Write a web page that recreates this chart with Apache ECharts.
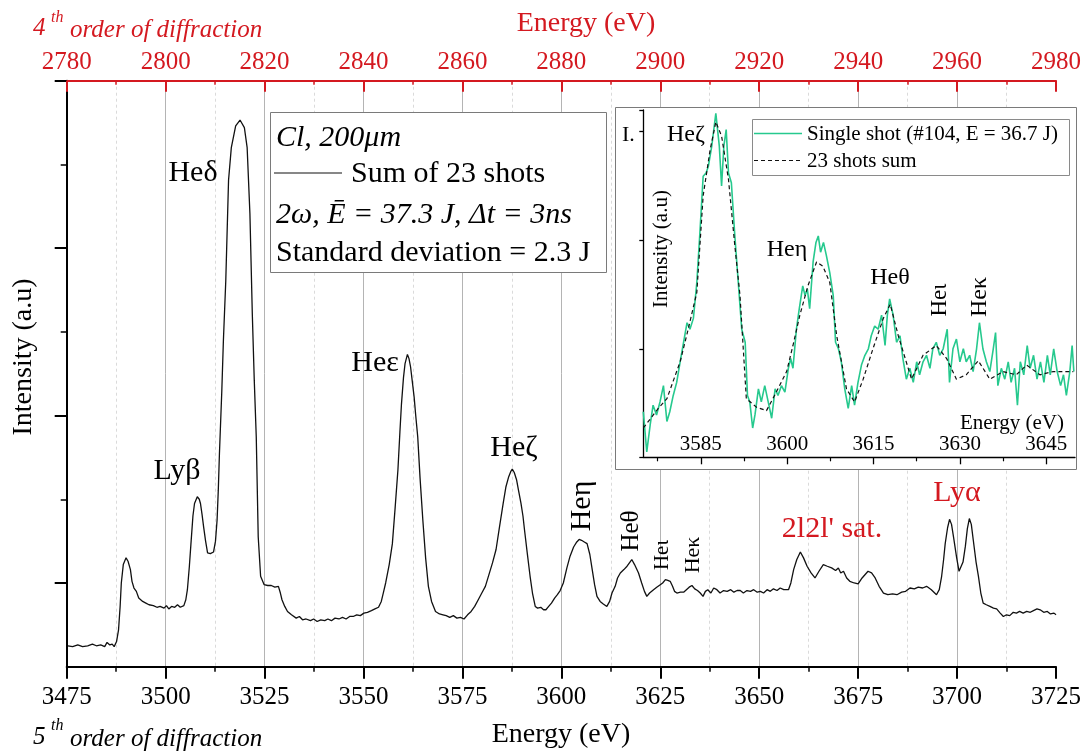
<!DOCTYPE html>
<html><head><meta charset="utf-8">
<script src="https://cdn.jsdelivr.net/npm/echarts@6/dist/echarts.min.js"></script>
<style>html,body{margin:0;padding:0;background:#fff}#c{width:1084px;height:752px}</style>
</head><body><div id="c"></div>
<script>
// ---------- DATA ----------
const mainEnergy = [3475.3,3476.5,3477.8,3479.0,3480.3,3481.5,3482.5,3483.6,3484.6,3485.2,3485.9,3486.5,3487.0,3487.6,3488.1,3488.5,3488.8,3489.3,3490.0,3490.5,3491.1,3491.5,3492.0,3492.6,3493.2,3494.2,3495.0,3495.8,3496.9,3497.8,3498.6,3499.6,3500.2,3500.8,3501.5,3502.3,3503.0,3503.7,3504.6,3505.1,3505.5,3506.0,3506.4,3506.9,3507.3,3508.0,3508.5,3508.8,3509.2,3509.6,3510.1,3510.6,3511.3,3512.1,3512.6,3513.0,3513.3,3513.6,3514.2,3514.6,3515.2,3515.9,3516.6,3517.7,3518.8,3519.9,3520.6,3521.3,3521.9,3522.4,3522.9,3523.4,3524.0,3524.9,3525.8,3526.7,3527.6,3528.5,3529.0,3529.4,3530.1,3530.8,3531.8,3533.0,3533.8,3534.6,3535.5,3536.6,3537.4,3538.3,3539.2,3540.2,3541.0,3541.9,3542.8,3543.8,3544.7,3545.6,3546.5,3547.4,3548.3,3549.2,3550.1,3551.0,3552.0,3552.9,3553.8,3554.5,3555.0,3555.6,3556.5,3557.3,3558.0,3558.7,3559.2,3559.6,3560.1,3560.5,3561.1,3561.5,3561.9,3562.3,3562.8,3563.2,3563.7,3564.3,3565.0,3565.7,3566.4,3567.2,3568.2,3569.2,3570.1,3570.9,3571.8,3572.7,3573.6,3574.5,3575.4,3576.3,3577.2,3578.1,3579.0,3579.9,3580.8,3581.7,3582.6,3583.5,3584.4,3585.3,3586.0,3586.7,3587.2,3587.6,3588.1,3588.7,3589.2,3589.8,3590.3,3590.7,3591.4,3592.1,3592.7,3593.4,3594.0,3594.8,3595.5,3596.1,3596.8,3597.5,3598.3,3599.0,3599.7,3600.5,3601.4,3602.2,3603.1,3603.9,3604.5,3605.1,3605.8,3606.5,3607.2,3607.8,3608.4,3609.0,3609.8,3610.6,3611.5,3612.2,3612.8,3613.6,3614.2,3614.9,3615.8,3616.6,3617.2,3617.8,3618.5,3619.5,3620.3,3621.0,3621.6,3622.3,3623.3,3624.1,3625.0,3625.6,3626.3,3626.9,3627.5,3628.1,3628.6,3629.2,3630.1,3630.9,3631.6,3632.3,3633.0,3633.7,3634.4,3635.1,3635.8,3636.4,3637.0,3637.8,3638.5,3639.3,3640.1,3641.0,3641.9,3642.8,3643.6,3644.4,3645.2,3646.0,3646.9,3647.8,3648.6,3649.5,3650.3,3651.1,3652.0,3652.8,3653.6,3654.5,3655.3,3656.2,3657.4,3658.0,3658.7,3659.5,3660.4,3661.2,3662.1,3663.1,3664.1,3665.1,3666.2,3667.2,3668.3,3669.3,3670.0,3670.6,3671.3,3672.1,3672.9,3674.0,3675.0,3676.0,3677.5,3678.4,3679.3,3680.3,3681.4,3682.5,3683.7,3684.8,3686.0,3687.0,3688.1,3689.2,3690.2,3691.3,3692.3,3693.5,3694.8,3695.5,3696.1,3696.6,3697.0,3697.6,3698.1,3698.6,3699.1,3699.9,3700.5,3700.8,3701.5,3702.1,3702.6,3703.1,3703.6,3704.1,3704.8,3705.4,3706.0,3706.6,3707.4,3708.3,3709.2,3710.0,3710.9,3711.7,3712.5,3713.3,3714.2,3715.0,3715.8,3716.7,3717.6,3718.5,3719.3,3720.2,3721.0,3721.9,3722.8,3723.6,3724.5,3725.0];
const mainIntensity = [0.25,0.24,0.26,0.24,0.25,0.27,0.25,0.26,0.24,0.29,0.26,0.27,0.24,0.30,0.44,0.72,1.00,1.22,1.30,1.26,1.16,1.02,0.94,0.90,0.82,0.78,0.76,0.74,0.73,0.71,0.72,0.70,0.73,0.69,0.72,0.71,0.74,0.71,0.73,0.80,0.92,1.20,1.47,1.80,1.95,2.03,2.00,1.95,1.82,1.67,1.50,1.36,1.35,1.37,1.50,1.75,2.10,2.55,3.30,3.90,4.61,5.81,6.20,6.46,6.53,6.44,6.20,5.41,4.22,3.42,2.75,1.55,1.08,0.98,0.97,0.97,0.95,0.96,0.88,0.80,0.72,0.66,0.62,0.58,0.60,0.56,0.57,0.55,0.57,0.54,0.56,0.55,0.57,0.55,0.58,0.57,0.59,0.57,0.60,0.60,0.62,0.61,0.64,0.65,0.67,0.69,0.71,0.78,0.88,1.00,1.22,1.47,1.90,2.35,2.80,3.14,3.45,3.62,3.73,3.68,3.58,3.42,3.22,3.00,2.75,2.25,1.75,1.30,0.96,0.78,0.66,0.63,0.62,0.61,0.59,0.61,0.58,0.59,0.57,0.62,0.66,0.72,0.80,0.88,0.96,1.10,1.24,1.40,1.68,1.95,2.15,2.27,2.33,2.36,2.32,2.23,2.10,1.95,1.80,1.63,1.35,1.08,0.88,0.72,0.70,0.71,0.68,0.68,0.72,0.76,0.82,0.86,0.91,1.00,1.18,1.32,1.43,1.49,1.52,1.51,1.49,1.47,1.34,1.16,0.98,0.84,0.78,0.75,0.72,0.78,0.88,0.96,1.06,1.12,1.16,1.20,1.24,1.28,1.22,1.12,1.00,0.90,0.84,0.88,0.92,0.95,0.98,1.00,1.04,1.03,1.02,0.96,0.90,0.88,0.89,0.89,0.92,0.95,0.97,0.93,0.91,0.88,0.84,0.90,0.92,0.88,0.94,0.92,0.88,0.91,0.90,0.92,0.89,0.91,0.91,0.88,0.91,0.90,0.92,0.89,0.90,0.88,0.92,0.90,0.93,0.91,0.94,0.92,0.92,1.00,1.16,1.28,1.37,1.30,1.20,1.12,1.06,1.14,1.22,1.20,1.18,1.15,1.18,1.12,1.14,1.06,1.02,1.00,0.99,1.06,1.14,1.12,1.06,0.96,0.88,0.86,0.87,0.86,0.89,0.90,0.94,0.93,0.95,0.94,0.96,0.92,0.86,0.92,1.08,1.28,1.47,1.66,1.76,1.70,1.55,1.30,1.14,1.12,1.25,1.44,1.65,1.77,1.70,1.51,1.25,1.08,0.88,0.76,0.74,0.72,0.70,0.69,0.64,0.60,0.62,0.61,0.65,0.64,0.66,0.64,0.66,0.65,0.67,0.69,0.68,0.65,0.66,0.63,0.64,0.62];

const insetEnergySum = [3575.0,3577.6,3579.1,3581.4,3582.8,3584.3,3585.4,3586.6,3587.6,3588.6,3589.8,3590.9,3591.8,3592.9,3594.7,3596.4,3598.1,3599.9,3601.0,3602.2,3603.6,3605.1,3606.2,3607.4,3608.6,3610.3,3611.7,3613.2,3614.9,3616.7,3617.9,3619.3,3621.6,3623.6,3625.9,3627.7,3629.4,3631.1,3633.2,3635.2,3637.5,3639.8,3641.6,3643.9,3646.2,3649.7];
const insetSum = [0.27,0.45,0.54,0.88,1.18,1.52,2.41,2.83,3.09,2.96,2.56,1.95,1.49,0.54,0.46,0.43,0.60,0.79,1.03,1.31,1.58,1.80,1.76,1.61,1.12,0.63,0.51,0.72,1.00,1.28,1.41,1.12,0.72,0.94,1.03,0.91,0.72,0.76,0.89,0.72,0.79,0.76,0.85,0.76,0.79,0.79];
const insetEnergyShot = [3575.0,3575.6,3576.2,3576.7,3577.3,3577.9,3578.5,3579.1,3579.6,3580.2,3580.8,3581.4,3582.2,3582.6,3583.1,3583.7,3584.3,3584.8,3585.4,3585.9,3586.3,3586.9,3587.6,3588.2,3588.6,3589.0,3589.4,3589.8,3590.3,3590.9,3591.5,3592.1,3592.7,3593.1,3593.5,3594.0,3594.4,3595.0,3595.5,3596.1,3596.7,3597.3,3597.9,3598.4,3599.0,3599.6,3600.2,3600.6,3601.0,3601.6,3602.1,3602.7,3603.1,3603.5,3603.9,3604.5,3605.0,3605.4,3605.8,3606.3,3606.8,3607.4,3608.0,3608.4,3608.9,3609.4,3610.0,3610.6,3611.2,3611.7,3612.3,3612.9,3613.5,3614.1,3614.6,3615.2,3615.8,3616.4,3617.0,3617.4,3617.8,3618.4,3619.0,3619.6,3620.1,3620.7,3621.3,3621.9,3622.5,3623.0,3623.6,3624.2,3624.8,3625.3,3625.9,3626.5,3627.1,3627.8,3628.2,3628.8,3629.4,3630.0,3630.6,3631.1,3631.7,3632.3,3632.9,3633.4,3634.0,3634.6,3635.2,3635.8,3636.2,3636.6,3637.2,3637.8,3638.4,3638.9,3639.5,3640.0,3640.5,3641.1,3641.7,3642.2,3642.8,3643.4,3644.0,3644.6,3645.2,3645.7,3646.3,3646.9,3647.5,3648.0,3648.5,3649.1,3649.5,3649.8];
const insetShot = [0.42,0.05,0.30,0.48,0.39,0.51,0.66,0.33,0.42,0.57,0.69,0.88,1.12,1.24,1.18,1.28,1.61,2.04,2.59,2.62,2.68,2.87,3.17,2.87,2.50,2.87,3.02,2.62,2.53,2.04,1.61,1.18,1.06,0.57,0.51,0.27,0.39,0.63,0.51,0.66,0.51,0.36,0.63,0.57,0.66,0.60,0.82,0.91,0.82,1.18,1.37,1.58,1.49,1.55,1.37,1.80,1.98,2.04,1.89,1.98,1.86,1.70,1.49,1.06,1.00,0.88,0.63,0.45,0.66,0.48,0.69,0.85,0.94,1.00,1.12,1.21,1.18,1.31,1.03,1.31,1.46,1.31,1.06,1.12,0.91,0.72,0.82,0.69,0.88,0.76,0.88,0.94,0.82,1.00,1.06,0.94,1.00,1.18,0.69,1.00,1.09,0.88,1.00,0.88,0.94,0.79,1.00,1.24,1.00,0.88,0.79,1.00,1.15,0.66,0.82,0.72,0.88,0.69,0.82,0.48,0.88,0.76,1.03,0.82,0.94,0.72,0.88,0.69,0.94,0.76,1.00,0.79,0.66,0.76,0.57,0.79,1.03,0.79];

const insetMajorTicks = [3585, 3600, 3615, 3630, 3645];
const insetMinorTicks = [3577.5, 3592.5, 3607.5, 3622.5, 3637.5];
const mainYMajorTicks = [1, 3, 5, 7];
const mainYMinorTicks = [2, 4, 6];

// ---------- STYLE ----------
const FONT = '"Liberation Serif", "Times New Roman", serif';
const RED = '#d41920';
const GREEN = '#26c98e';
const plain = v => String(v);

const zip = (a, b) => a.map((v, i) => [v, b[i]]);

function T(text, x, y, size, o) {
  o = o || {};
  return {
    type: 'text', x: x, y: y, rotation: o.rot || 0, z: o.z || 10, silent: true,
    style: {
      text: text, fontSize: size, fontFamily: FONT,
      fontStyle: o.italic ? 'italic' : 'normal',
      fill: o.color || '#000',
      align: o.align || 'center', verticalAlign: o.valign || 'middle'
    }
  };
}
const R90 = Math.PI / 2;

const graphics = [
  {type: 'rect', z: 1, silent: true, shape: {x: 270.5, y: 112.5, width: 336, height: 160},
   style: {fill: '#fff', stroke: '#7a7a7a', lineWidth: 1}},
  {type: 'rect', z: 1, silent: true, shape: {x: 615.5, y: 107.5, width: 461, height: 362},
   style: {fill: '#fff', stroke: '#7a7a7a', lineWidth: 1}},
  {type: 'rect', z: 8, silent: true, shape: {x: 752.5, y: 119.5, width: 317, height: 56},
   style: {fill: '#fff', stroke: '#8a8a8a', lineWidth: 1}},
  T('Cl, 200\u03bcm', 276, 138, 30, {italic: true, align: 'left'}),
  {type: 'line', z: 10, silent: true, shape: {x1: 274, y1: 173, x2: 342, y2: 173}, style: {stroke: '#111', lineWidth: 1.2}},
  T('Sum of 23 shots', 351, 174, 30, {align: 'left'}),
  T('2\u03c9, \u0112 = 37.3 J, \u0394t = 3ns', 276, 215, 30, {italic: true, align: 'left'}),
  T('Standard deviation = 2.3 J', 276, 253, 30, {align: 'left'}),
  T('Energy (eV)', 586, 24, 28, {color: RED}),
  T('Energy (eV)', 561, 735, 28),
  T('Intensity (a.u)', 24, 357, 28, {rot: R90}),
  T('4', 33, 28, 25, {italic: true, color: RED, align: 'left'}),
  T('th', 51, 18, 16, {italic: true, color: RED, align: 'left'}),
  T('order of diffraction', 70, 30, 25, {italic: true, color: RED, align: 'left'}),
  T('5', 33, 737, 25, {italic: true, align: 'left'}),
  T('th', 51, 726, 16, {italic: true, align: 'left'}),
  T('order of diffraction', 70, 739, 25, {italic: true, align: 'left'}),
  T('He\u03b4', 193, 173, 30),
  T('Ly\u03b2', 177, 471, 30),
  T('He\u03b5', 375, 363, 30),
  T('He\u03b6', 514, 448, 30),
  T('He\u03b7', 582, 506, 30, {rot: R90}),
  T('He\u03b8', 631, 531, 25, {rot: R90}),
  T('He\u03b9', 662, 555, 21, {rot: R90}),
  T('He\u03ba', 693, 555, 22, {rot: R90}),
  T("2l2l' sat.", 832, 529, 30, {color: RED}),
  T('Ly\u03b1', 957, 493, 30, {color: RED}),
  T('I.', 622, 135, 22, {align: 'left'}),
  T('He\u03b6', 686, 135, 24),
  T('He\u03b7', 787, 250, 24),
  T('He\u03b8', 890, 278, 24),
  T('He\u03b9', 940, 300, 23, {rot: R90}),
  T('He\u03ba', 980, 297, 24, {rot: R90}),
  T('Energy (eV)', 1012, 423, 21),
  T('Intensity (a.u)', 661, 249, 21, {rot: R90}),
  {type: 'line', z: 10, silent: true, shape: {x1: 754, y1: 133.5, x2: 802, y2: 133.5}, style: {stroke: GREEN, lineWidth: 1.6}},
  T('Single shot (#104, E = 36.7 J)', 807, 134, 21, {align: 'left'}),
  {type: 'line', z: 10, silent: true, shape: {x1: 754, y1: 160.5, x2: 802, y2: 160.5}, style: {stroke: '#111', lineWidth: 1.2, lineDash: [4, 3]}},
  T('23 shots sum', 807, 161, 21, {align: 'left'})
];

const chart = echarts.init(document.getElementById('c'), null, {renderer: 'canvas'});
chart.setOption({
  animation: false,
  backgroundColor: '#fff',
  grid: [
    {left: 66.7, right: 27.3, top: 80.7, bottom: 85.3},
    {left: 643.3, right: 9, top: 110, bottom: 294.7, z: 5}
  ],
  xAxis: [
    {
      type: 'value', gridIndex: 0, position: 'bottom', min: 3475, max: 3725, interval: 25,
      axisLine: {show: true, onZero: false, lineStyle: {color: '#000', width: 2}},
      axisTick: {show: true, inside: false, length: 12, lineStyle: {color: '#000', width: 2}},
      minorTick: {show: true, splitNumber: 2, length: 5, lineStyle: {color: '#000', width: 1.5}},
      axisLabel: {show: true, fontSize: 25, fontFamily: FONT, color: '#000', margin: 18, showMinLabel: true, showMaxLabel: true, formatter: plain},
      splitLine: {show: true, showMinLine: false, showMaxLine: false, lineStyle: {color: '#b4b4b4', width: 1}},
      minorSplitLine: {show: true, lineStyle: {color: '#dadada', width: 1, type: [3, 3]}}
    },
    {
      type: 'value', gridIndex: 0, position: 'top', min: 2780, max: 2980, interval: 20,
      axisLine: {show: true, onZero: false, lineStyle: {color: RED, width: 2}},
      axisTick: {show: true, inside: true, length: 11, lineStyle: {color: RED, width: 2}},
      minorTick: {show: true, splitNumber: 2, length: 4, lineStyle: {color: RED, width: 1.5}},
      axisLabel: {show: true, fontSize: 25, fontFamily: FONT, color: RED, margin: 6, showMinLabel: true, showMaxLabel: true, formatter: plain},
      splitLine: {show: false}
    },
    {
      type: 'value', gridIndex: 1, position: 'bottom', min: 3575, max: 3650, z: 5,
      axisLine: {show: true, onZero: false, lineStyle: {color: '#000', width: 1.3}},
      axisTick: {show: true, inside: false, length: 7, customValues: insetMajorTicks, lineStyle: {color: '#000', width: 1.3}},
      axisLabel: {show: true, inside: true, margin: 2, customValues: insetMajorTicks, fontSize: 21, fontFamily: FONT, color: '#000', formatter: plain},
      splitLine: {show: false}
    },
    {
      type: 'value', gridIndex: 1, position: 'bottom', min: 3575, max: 3650, z: 5,
      axisLine: {show: false, onZero: false},
      axisTick: {show: true, inside: false, length: 4, customValues: insetMinorTicks, lineStyle: {color: '#000', width: 1.2}},
      axisLabel: {show: false},
      splitLine: {show: false}
    }
  ],
  yAxis: [
    {
      type: 'value', gridIndex: 0, position: 'left', min: 0, max: 7,
      axisLine: {show: true, onZero: false, lineStyle: {color: '#000', width: 2}},
      axisTick: {show: true, inside: false, length: 12, customValues: mainYMajorTicks, lineStyle: {color: '#000', width: 2}},
      axisLabel: {show: false},
      splitLine: {show: false}
    },
    {
      type: 'value', gridIndex: 0, position: 'left', min: 0, max: 7,
      axisLine: {show: false, onZero: false},
      axisTick: {show: true, inside: false, length: 6, customValues: mainYMinorTicks, lineStyle: {color: '#000', width: 1.5}},
      axisLabel: {show: false},
      splitLine: {show: false}
    },
    {
      type: 'value', gridIndex: 1, position: 'left', min: 0, max: 3.2, interval: 1, z: 5,
      axisLine: {show: true, onZero: false, lineStyle: {color: '#000', width: 1.3}},
      axisTick: {show: true, inside: false, length: 4, lineStyle: {color: '#000', width: 1.3}},
      axisLabel: {show: false},
      splitLine: {show: false}
    }
  ],
  series: [
    {
      name: 'Sum of 23 shots', type: 'line', xAxisIndex: 0, yAxisIndex: 0,
      data: zip(mainEnergy, mainIntensity), showSymbol: false, symbol: 'none', z: 2, silent: true,
      lineStyle: {color: '#111', width: 1.3}
    },
    {
      name: 'Single shot (#104, E = 36.7 J)', type: 'line', xAxisIndex: 2, yAxisIndex: 2,
      data: zip(insetEnergyShot, insetShot), showSymbol: false, symbol: 'none', z: 6, silent: true,
      lineStyle: {color: GREEN, width: 1.6}
    },
    {
      name: '23 shots sum', type: 'line', xAxisIndex: 2, yAxisIndex: 2,
      data: zip(insetEnergySum, insetSum), showSymbol: false, symbol: 'none', z: 7, silent: true,
      lineStyle: {color: '#111', width: 1.2, type: [4, 3]}
    }
  ],
  graphic: {elements: graphics}
});
</script>
</body></html>
